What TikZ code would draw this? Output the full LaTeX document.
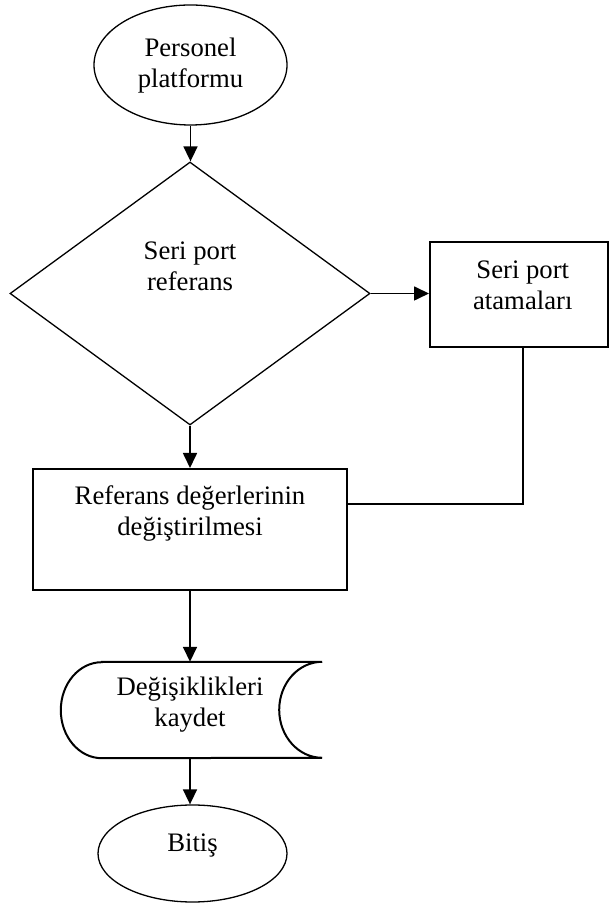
\documentclass[tikz,border=0pt]{standalone}
\usepackage{fontspec}
\setmainfont{Liberation Serif}
\usetikzlibrary{shapes.geometric,arrows.meta}
\tikzset{
  txt/.style={align=center,inner sep=0pt,font=\fontsize{26.7pt}{31pt}\selectfont},
  oval/.style={draw,ellipse,line width=1.3pt,inner sep=0pt},
  decide/.style={draw,diamond,line width=1.3pt,inner sep=0pt},
  procbox/.style={draw,rectangle,line width=2pt,inner sep=0pt},
  frame/.style={rectangle,inner sep=0pt},
  conn/.style={line width=1.7pt},
  arr/.style={conn,-{Triangle[length=15pt,width=14pt]}}
}
\begin{document}
\begin{tikzpicture}[x=1pt,y=1pt]
\useasboundingbox (0,0) rectangle (609,907);
\node[oval,minimum width=193pt,minimum height=120pt,
  label={[txt,yshift=-0.5pt]center:{Personel\\platformu}}] (pers) at (190.5,842) {};
\node[decide,minimum width=360pt,minimum height=263pt,
  label={[txt,yshift=27pt]center:{Seri port\\referans}}] (dia) at (190,613.5) {};
\node[procbox,minimum width=177.5pt,minimum height=105pt,
  label={[txt,xshift=4pt,yshift=9.5pt]center:{Seri port\\atamaları}}] (sp) at (518.75,612.5) {};
\node[procbox,minimum width=314pt,minimum height=121pt,
  label={[txt,yshift=16pt]center:{Referans değerlerinin\\değiştirilmesi}}] (ref) at (190,377.5) {};
\node[frame,minimum width=261pt,minimum height=96pt,
  label={[txt,xshift=-1.5pt,yshift=5pt]center:{Değişiklikleri\\kaydet}}] (st) at (191.5,197) {};
\draw[line width=2pt] ([xshift=41pt]st.north west) -- (st.north east)
  arc[start angle=90,end angle=270,x radius=43pt,y radius=48pt]
  -- ([xshift=41pt]st.south west)
  arc[start angle=270,end angle=90,x radius=41pt,y radius=48pt] -- cycle;
\node[oval,minimum width=189pt,minimum height=97pt,
  label={[txt,yshift=8pt]center:{Bitiş}}] (end) at (192.5,53.5) {};
\draw[arr] (pers.south) -- (pers.south |- dia.north);
\draw[arr] (dia.east) -- (dia.east -| sp.west);
\draw[arr] (dia.south) -- (ref.north);
\draw[conn] ([xshift=4pt]sp.south) |- ([yshift=25.5pt]ref.east);
\draw[arr] (ref.south) -- (ref.south |- st.north);
\draw[arr] (ref.south |- st.south) -- (ref.south |- end.north);
\end{tikzpicture}
\end{document}
